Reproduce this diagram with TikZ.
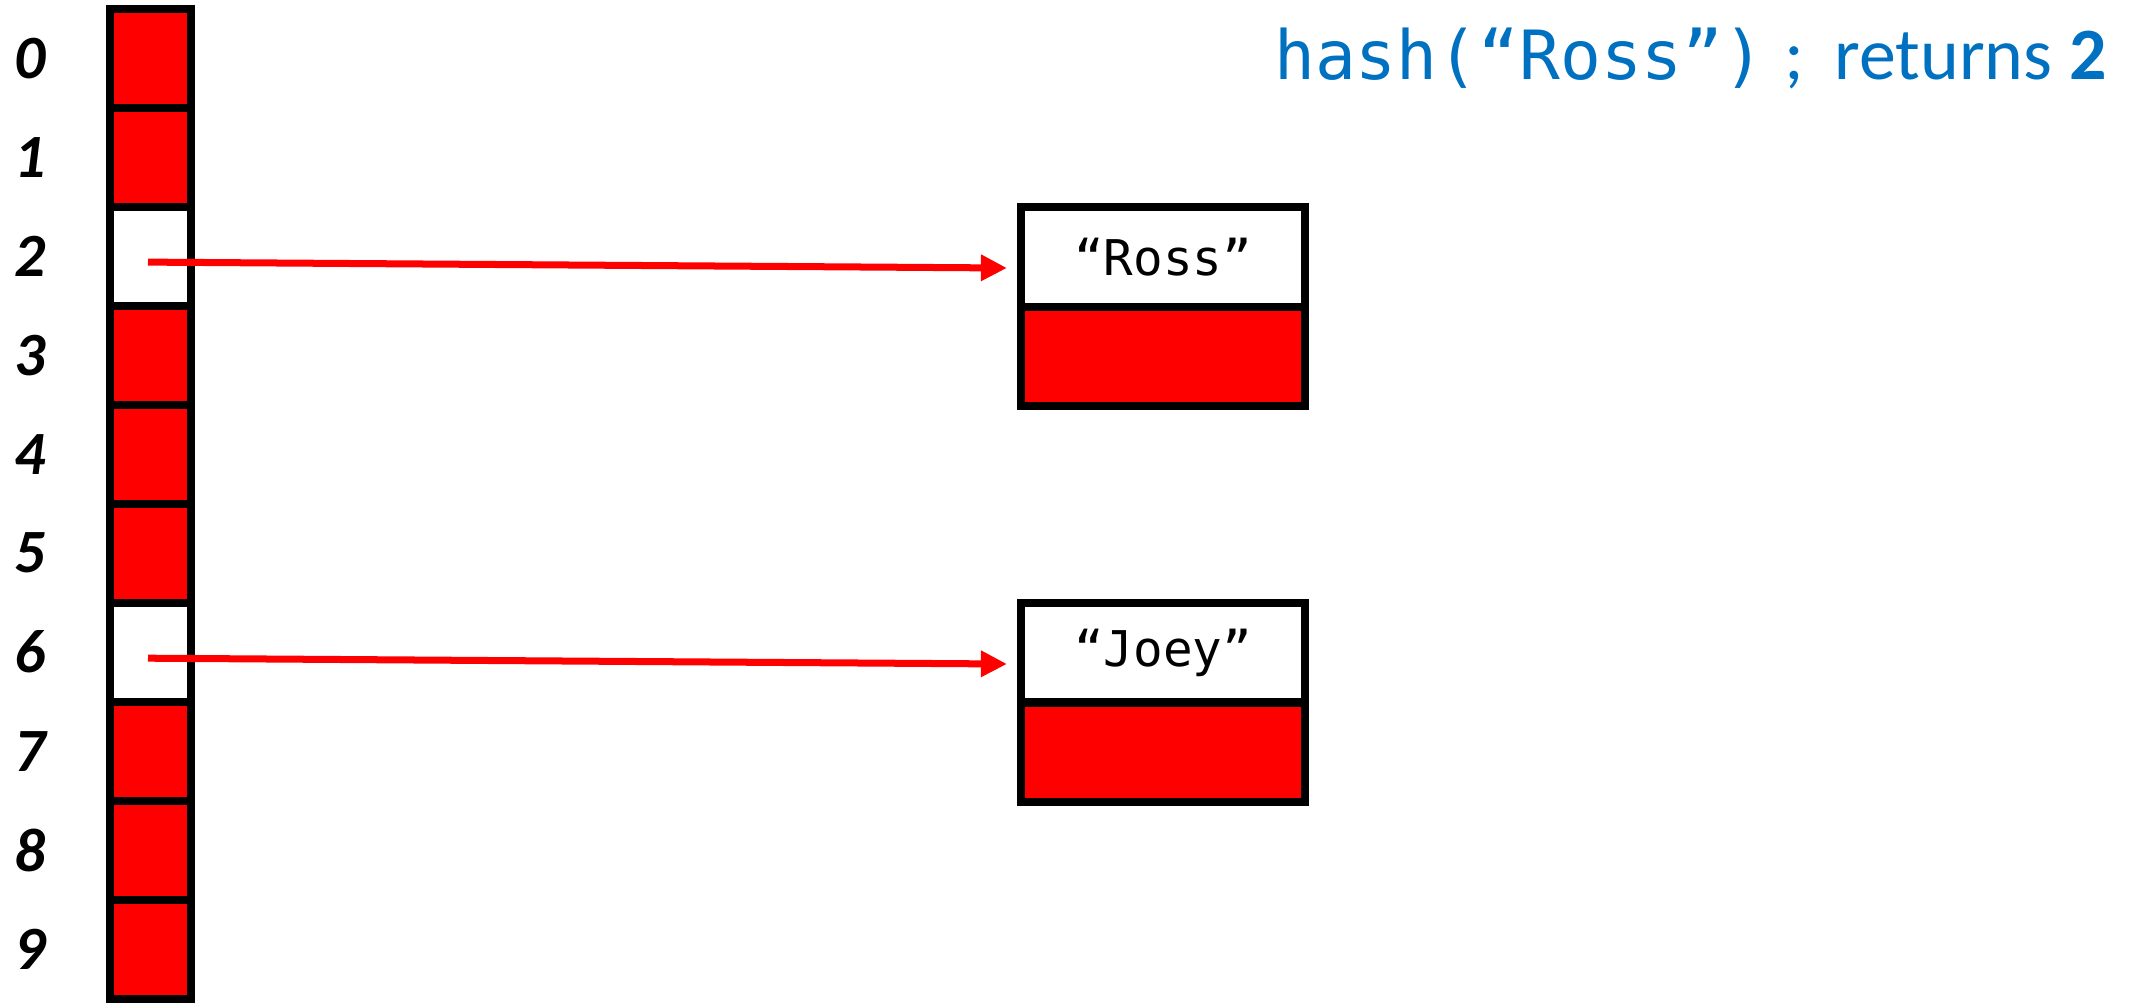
\documentclass[tikz,border=0pt]{standalone}
\usepackage{fontspec}
\setmainfont{Carlito}
\setmonofont{DejaVu Sans Mono}
\usetikzlibrary{positioning, arrows.meta}
\definecolor{slotred}{HTML}{FF0000}
\definecolor{hashblue}{HTML}{0070C0}

\begin{document}
\begin{tikzpicture}[x=0.01cm, y=-0.01cm, node distance=0.989cm, on grid,
        slot/.style={draw, line width=0.08cm, fill=slotred, minimum width=0.81cm,
            minimum height=0.989cm, inner sep=0pt},
        used/.style={fill=white},
        idx/.style={font=\fontsize{17.5}{20}\selectfont\bfseries\itshape},
        key/.style={draw, line width=0.08cm, fill=white, minimum width=2.84cm,
            minimum height=0.99cm, inner sep=0pt, font=\fontsize{14}{16}\selectfont\ttfamily},
        next/.style={draw, line width=0.08cm, fill=slotred, minimum width=2.84cm,
            minimum height=0.99cm, inner sep=0pt},
        link/.style={color=slotred, line width=0.07cm, -{Triangle[length=0.26cm, width=0.25cm]}}]
        \useasboundingbox (0,0) rectangle (2133,1003);
        % Define the table
        \node[slot] (c0) at (150.5,58.45) {};
        \foreach \i [remember=\i as \prev (initially 0)] in {1,...,9}
            \node[slot, below=of c\prev] (c\i) {};
        \node[slot, used] at (c2) {};
        \node[slot, used] at (c6) {};
        \foreach \i in {0,...,9}
            \node[idx, left=1.2cm of c\i] (l\i) {\i};
        % Define the entries
        \node[key] (ross) at (1163,257) {“Ross”};
        \node[next, below=0.99cm of ross] (rossnext) {};
        \node[key] (joey) at (1163,652.5) {“Joey”};
        \node[next, below=1.0cm of joey] (joeynext) {};
        % Define the pointers
        \draw[link] ([shift={(-2.5,5.75)}]c2.center) -- ([shift={(-10,11)}]ross.west);
        \draw[link] ([shift={(-2.5,6)}]c6.center) -- ([shift={(-10,11.5)}]joey.west);
        % Title
        \node[anchor=base east, text=hashblue, font=\fontsize{21}{24}\selectfont]
            (call) at (2119,80) {{\fontsize{19.3}{22}\selectfont\ttfamily hash(“Ross”)}\hspace{0.2cm};\hspace{0.3cm}returns \textbf{2}};
\end{tikzpicture}
\end{document}
